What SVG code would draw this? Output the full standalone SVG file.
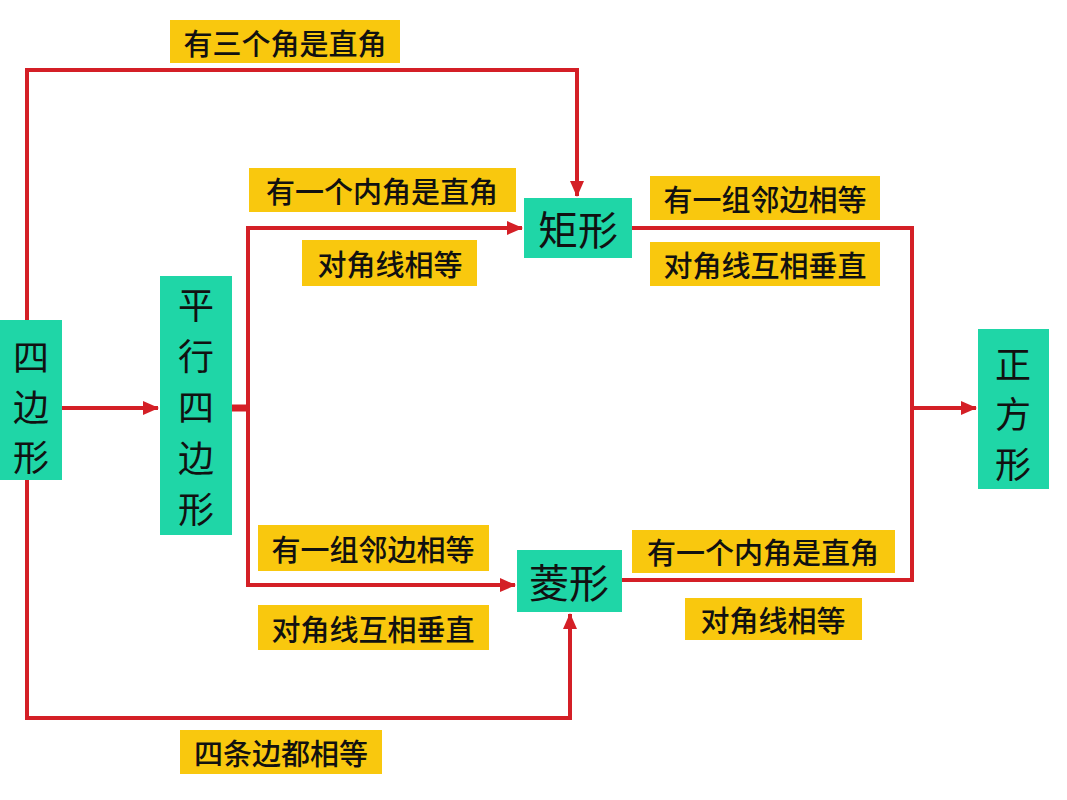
<svg xmlns="http://www.w3.org/2000/svg" width="1067" height="800" viewBox="0 0 1067 800">
<defs>
<style>
.node{fill:#1fd6a7;}
.lab{fill:#f9c80e;}
.nt{font-family:"Noto Sans CJK SC","Noto Sans",sans-serif;font-size:40px;fill:#111;text-anchor:middle;dominant-baseline:central;}
.vt{font-family:"Noto Sans CJK SC","Noto Sans",sans-serif;font-size:36px;fill:#111;text-anchor:middle;dominant-baseline:central;}
.lt{font-family:"Noto Sans CJK SC","Noto Sans",sans-serif;font-size:29px;font-weight:500;fill:#111;text-anchor:middle;dominant-baseline:central;}
.c{fill:none;stroke:#d41f26;stroke-width:4;}
</style>
<marker id="arr" markerUnits="userSpaceOnUse" markerWidth="16" markerHeight="14" refX="15" refY="7" orient="auto">
<path d="M0,0 L16,7 L0,14 Z" fill="#d41f26"/>
</marker>
</defs>
<rect width="1067" height="800" fill="#fff"/>
<g id="connectors">
<path class="c" d="M27,320 V70 H577 V196" marker-end="url(#arr)"/>
<path class="c" d="M27,480 V718 H570 V614" marker-end="url(#arr)"/>
<path class="c" d="M62,408 H158" marker-end="url(#arr)"/>
<path class="c" d="M232,408 H248" style="stroke-width:7"/>
<path class="c" d="M522,228 H248 V585 H515" marker-end="url(#arr)"/>
<path class="c" d="M248,228 H522" marker-end="url(#arr)"/>
<path class="c" d="M632,228 H912 V580 H622"/>
<path class="c" d="M912,408 H976" marker-end="url(#arr)"/>
</g>
<g id="n-sibianxing">
<rect class="node" x="0" y="320" width="62" height="160"/>
<text class="vt" x="31" y="355">四</text>
<text class="vt" x="31" y="405">边</text>
<text class="vt" x="31" y="455">形</text>
</g>
<g id="n-pingxing">
<rect class="node" x="160" y="276" width="72" height="259"/>
<text class="vt" x="196" y="303">平</text>
<text class="vt" x="196" y="354">行</text>
<text class="vt" x="196" y="405">四</text>
<text class="vt" x="196" y="456">边</text>
<text class="vt" x="196" y="507">形</text>
</g>
<g id="n-juxing">
<rect class="node" x="524" y="198" width="108" height="60"/>
<text class="nt" x="578" y="228">矩形</text>
</g>
<g id="n-lingxing">
<rect class="node" x="517" y="550" width="105" height="62"/>
<text class="nt" x="569" y="581">菱形</text>
</g>
<g id="n-zhengfang">
<rect class="node" x="978" y="329" width="71" height="160"/>
<text class="vt" x="1013" y="362">正</text>
<text class="vt" x="1013" y="412">方</text>
<text class="vt" x="1013" y="462">形</text>
</g>
<g id="labels">
<rect class="lab" x="170" y="20" width="230" height="43"/>
<text class="lt" x="285" y="42">有三个角是直角</text>
<rect class="lab" x="249" y="168" width="267" height="44"/>
<text class="lt" x="382" y="190">有一个内角是直角</text>
<rect class="lab" x="302" y="240" width="175" height="46"/>
<text class="lt" x="390" y="263">对角线相等</text>
<rect class="lab" x="650" y="176" width="230" height="44"/>
<text class="lt" x="765" y="198">有一组邻边相等</text>
<rect class="lab" x="650" y="242" width="230" height="44"/>
<text class="lt" x="765" y="264">对角线互相垂直</text>
<rect class="lab" x="258" y="525" width="231" height="46"/>
<text class="lt" x="373" y="548">有一组邻边相等</text>
<rect class="lab" x="258" y="605" width="231" height="45"/>
<text class="lt" x="373" y="628">对角线互相垂直</text>
<rect class="lab" x="632" y="530" width="263" height="43"/>
<text class="lt" x="763" y="551">有一个内角是直角</text>
<rect class="lab" x="685" y="598" width="177" height="42"/>
<text class="lt" x="773" y="619">对角线相等</text>
<rect class="lab" x="180" y="730" width="202" height="44"/>
<text class="lt" x="281" y="752">四条边都相等</text>
</g>
</svg>
